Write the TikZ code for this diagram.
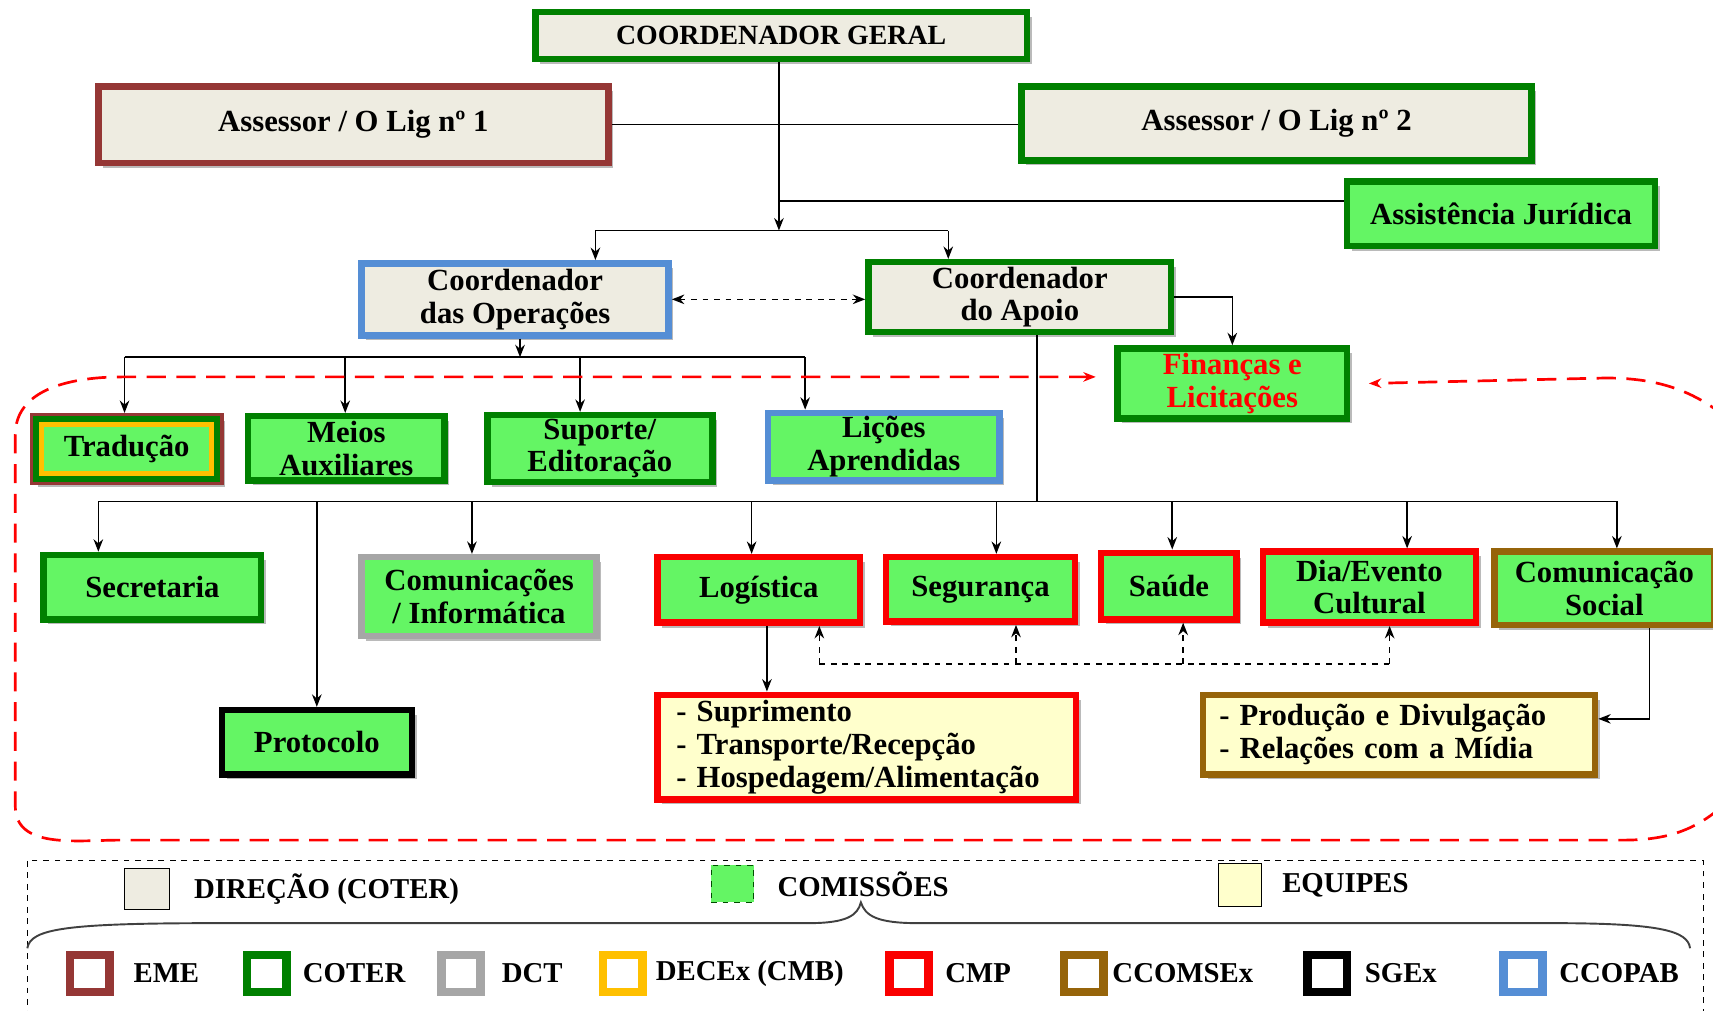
\documentclass[tikz,border=0pt]{standalone}
\usepackage{fontspec}
\setmainfont{Liberation Serif}
\usetikzlibrary{positioning, fit, shadows, arrows.meta}
\definecolor{beige}{RGB}{238,236,225}
\definecolor{lgreen}{RGB}{100,245,100}
\definecolor{dgreen}{RGB}{0,128,0}
\definecolor{eme}{RGB}{149,55,53}
\definecolor{ccopab}{RGB}{85,142,213}
\definecolor{dct}{RGB}{166,166,166}
\definecolor{decex}{RGB}{255,192,0}
\definecolor{cmp}{RGB}{250,0,0}
\definecolor{ccom}{RGB}{150,100,10}
\definecolor{teamfill}{RGB}{255,255,204}

\begin{document}
\begin{tikzpicture}[x=0.02cm, y=-0.02cm, >={Stealth[length=6.5pt,width=5pt]},
    box/.style={draw=dgreen, line width=3.4pt, fill=beige, inner sep=0pt, align=center,
        font=\fontsize{16}{17}\selectfont\bfseries,
        drop shadow={shadow xshift=2.5pt, shadow yshift=-2.5pt, fill=black!45, opacity=.6}},
    sz/.style 2 args={minimum width=#1*0.02cm, minimum height=#2*0.02cm},
    comissao/.style={box, fill=lgreen},
    team/.style={box, fill=teamfill, align=left},
    conn/.style={line width=0.8pt},
    reddash/.style={draw=red, line width=1.4pt, dash pattern=on 10pt off 5.5pt},
    legbox/.style={draw, thin, inner sep=0pt},
    legtxt/.style={inner sep=0pt, font=\fontsize{15}{17}\selectfont\bfseries}]
\useasboundingbox (0,0) rectangle (1568,925);
\clip (0,0) rectangle (1568,925);

% direcao
\node[box, sz={450}{43}, font=\fontsize{14.5}{16}\selectfont\bfseries] (geral) at (715,32.5) {COORDENADOR GERAL};
\node[box, sz={467}{70}, draw=eme] (ass1) at (323.5,114) {Assessor / O Lig nº 1};
\node[box, sz={467}{68}] (ass2) at (1168.5,113) {Assessor / O Lig nº 2};
\node[comissao, sz={282}{59}] (jur) at (1374,195.5) {Assistência Jurídica};
\node[box, sz={281}{66}, draw=ccopab] (cop) at (471.5,274) {Coordenador\\das Operações};
\node[box, sz={277}{64}] (cap) at (933.5,272) {Coordenador\\do Apoio};
\node[comissao, sz={210}{64}, text=red] (fin) at (1128,351) {Finanças e\\Licitações};

% comissoes
\node[comissao, sz={172}{60}, draw=eme] (trad) at (116,411) {Tradução};
\draw[dgreen, line width=3.2pt] ([shift={(6,6)}]trad.north west) rectangle ([shift={(-6,-6)}]trad.south east);
\draw[decex, line width=2.6pt] ([shift={(11,11)}]trad.north west) rectangle ([shift={(-11,-11)}]trad.south east);
\node[comissao, sz={180}{59}] (meios) at (317,410.5) {Meios\\Auxiliares};
\node[comissao, sz={206}{61}] (sup) at (549,410.5) {Suporte/\\Editoração};
\node[comissao, sz={212}{62}, draw=ccopab] (lic) at (809,409) {Lições\\Aprendidas};
\node[comissao, sz={199}{59}] (sec) at (139.5,537.5) {Secretaria};
\node[comissao, sz={215}{72}, draw=dct] (cominf) at (438.5,546) {Comunicações\\/ Informática};
\node[comissao, sz={174}{59}, draw=black] (prot) at (290,679.5) {Protocolo};
\node[comissao, sz={185}{60}, draw=cmp] (log) at (694.5,540) {Logística};
\node[comissao, sz={173}{59}, draw=cmp] (seg) at (897.5,539.5) {Segurança};
\node[comissao, sz={124}{61}, draw=cmp] (sau) at (1070,536.5) {Saúde};
\node[comissao, sz={195}{65}, draw=cmp] (dia) at (1253.5,537.5) {Dia/Evento\\Cultural};
\node[comissao, sz={201}{67}, draw=ccom] (cs) at (1468.5,538.5) {Comunicação\\Social};

% equipes
\node[team, sz={383}{96}, draw=cmp, text width=6.98cm] (supr) at (793.5,684) {- Suprimento\\- Transporte/Recepção\\- Hospedagem/Alimentação};
\node[team, sz={359}{73}, draw=ccom, text width=6.58cm] (prod) at (1280.5,672.5) {- Produção e Divulgação\\- Relações com a Mídia};

% ligacoes
\coordinate (g1) at (713,211);
\coordinate (g2) at (713,184);
\coordinate (g3) at (545,211);
\coordinate (g4) at (868,211);
\draw[conn, ->] (geral.south -| g1) -- (g1);
\draw[conn] (ass1) -- (ass1 -| ass2.west);
\draw[conn] (g2) -- (g2 -| jur.west);
\draw[conn] (g3) -- (g4);
\draw[conn, ->] (g3) -- (g3 |- cop.north);
\draw[conn, ->] (g4) -- (g4 |- cap.north);
\draw[conn, <->, dashed] (cop) -- (cop -| cap.west);
\draw[conn, ->] (cap.east) -| (fin.north);

\coordinate (o0) at (476,327);
\draw[conn, ->] (o0 |- cop.south) -- (o0);
\draw[conn] (114,327) -- (737,327);
\foreach \x/\n in {114/trad, 316/meios, 531/sup, 737/lic}
    \draw[conn, ->] (\x,327) -- (\x,327 |- \n.north);

\coordinate (a0) at (949,459);
\draw[conn] (a0 |- cap.south) -- (a0);
\draw[conn] (90,459) -- (1480,459);
\foreach \x/\n in {90/sec, 290/prot, 432/cominf, 688/log, 912/seg, 1073/sau, 1288/dia, 1480/cs}
    \draw[conn, ->] (\x,459) -- (\x,459 |- \n.north);

\coordinate (l0) at (702,600);
\draw[conn, ->] (l0 |- log.south) -- (l0 |- supr.north);
\draw[conn, dashed] (750,608) -- (1272,608);
\foreach \x/\n in {750/log, 930/seg, 1083/sau, 1272/dia}
    \draw[conn, dashed, ->] (\x,608) -- (\x,608 |- \n.south);
\coordinate (c0) at (1510,658);
\draw[conn, ->] (c0 |- cs.south) -- (c0) -- (c0 -| prod.east);

% area das comissoes
\draw[reddash, <-] (1003,345) -- (112,345) to[out=180, in=90] (14,398) -- (14,738) to[out=-90, in=180] (110,769) -- (1486,769) to[out=0, in=-135] (1585,730);
\draw[reddash, ->] (1600,400) to[out=135, in=0] (1470,346) -- (1253,351);

% legenda
\draw[dashed, thin] (25,788) rectangle (1559,940);
\node[legbox, fill=beige, fit={(114,795) (155,832)}] (kdir) {};
\node[legtxt, right=0.44cm of kdir] {DIREÇÃO (COTER)};
\node[legbox, fill=lgreen, draw=dgreen!60!black, dashed, fit={(651,792) (690,826)}] (kcom) {};
\node[legtxt, right=0.42cm of kcom] {COMISSÕES};
\node[legbox, fill=teamfill, fit={(1115,790) (1155,830)}] (keq) {};
\node[legtxt, right=0.36cm of keq] {EQUIPES};
\draw[line width=1pt, black!75] (25,868) .. controls (28,850) and (60,845) .. (200,845) -- (740,845)
    .. controls (775,845) and (785,838) .. (788,826) .. controls (792,838) and (802,845) .. (840,845)
    -- (1420,845) .. controls (1520,845) and (1545,852) .. (1547,868);
\foreach \x/\c/\t/\g [count=\i] in {60/eme/EME/0.36, 222/dgreen/COTER/0.22, 400/dct/DCT/0.3,
        548/decex/DECEx (CMB)/0.16, 810/cmp/CMP/0.22, 970/ccom/CCOMSEx/0.08,
        1193/black/SGEx/0.24, 1372/ccopab/CCOPAB/0.22}
{
    \node[legbox, draw=\c, line width=4.5pt, fill=white, fit={(\x+4,874) (\x+40,908)}] (k\i) {};
    \node[legtxt, right=\g cm of k\i] {\t};
}
\end{tikzpicture}
\end{document}
